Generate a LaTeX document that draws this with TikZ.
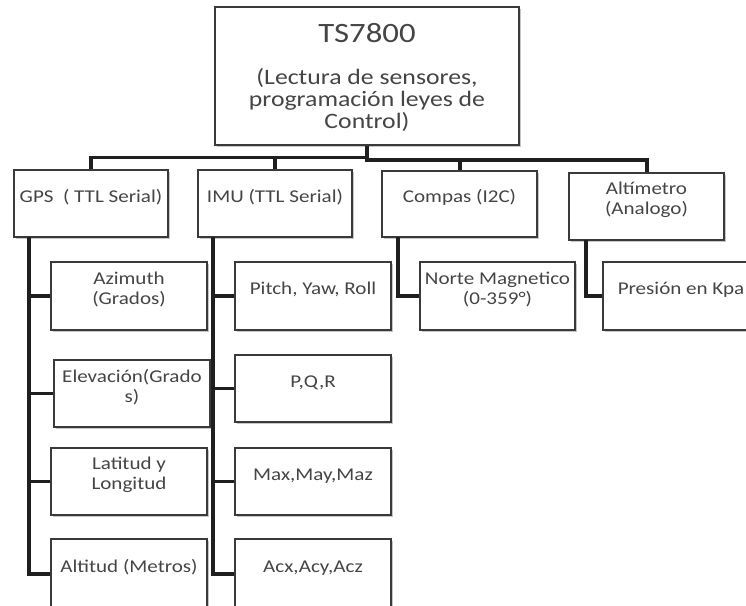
\documentclass[tikz,border=0pt]{standalone}
\usepackage{fontspec}
\setmainfont{Carlito}[FakeStretch=1.17]
\usetikzlibrary{fit,shadows}
\definecolor{txt}{HTML}{454545}
\definecolor{bord}{HTML}{3A3A3A}
\begin{document}
\begin{tikzpicture}[x=0.75pt,y=-0.75pt,
  box/.style={draw=bord, line width=1.1pt, fill=white, inner sep=0pt, align=center,
    text=txt, font=\fontsize{13.5}{15}\selectfont,
    drop shadow={shadow xshift=1.2pt, shadow yshift=-1.2pt, fill=black, opacity=0.22}},
  conn/.style={line width=2.6pt, draw=black!88, line cap=butt, line join=miter},
  lbl/.style={text=txt, align=center, inner sep=0pt}]
\useasboundingbox (0,0) rectangle (746,606);
\clip (0,0) rectangle (746,606);

% top box
\node[box, fit={(215,7) (519,145)}] (top) {};
\node[lbl, font=\fontsize{21}{24}\selectfont] (tsname) at (367,33) {TS7800};
\node[lbl, font=\fontsize{16.5}{16.2}\selectfont] (tsdesc) at (367,100)
  {(Lectura de sensores,\\programación leyes de\\Control)};

% level 2
\node[box, fit={(14,170) (168,237)}] (gps) {GPS \ ( TTL Serial)};
\node[box, fit={(198,170) (352,237)}] (imu) {IMU (TTL Serial)};
\node[box, fit={(382,171) (537,237)}] (comp) {Compas (I2C)};
\node[box, fit={(569,173) (724,240)}] (alt) {Altímetro\\(Analogo)};

% level 3 GPS
\node[box, fit={(51,262) (207,330)}] (azi) {Azimuth\\(Grados)};
\node[box, fit={(54,360) (210,427)}] (ele) {Elevación(Grado\\s)};
\node[box, fit={(51,448) (207,515)}] (lat) {Latitud y\\Longitud};
\node[box, fit={(51,539) (207,609)}] (alti) {Altitud (Metros)};

% level 3 IMU
\node[box, fit={(235,262) (391,330)}] (pyr) {Pitch, Yaw, Roll};
\node[box, fit={(235,355) (391,422)}] (pqr) {P,Q,R};
\node[box, fit={(235,448) (391,515)}] (max) {Max,May,Maz};
\node[box, fit={(235,539) (391,609)}] (acx) {Acx,Acy,Acz};

% level 3 Compas / Altimetro
\node[box, fit={(420,262) (575,330)}] (nor) {Norte Magnetico\\(0-359°)};
\node[box, fit={(603,262) (759,330)}] (pre) {Presión en Kpa};

% trunk coordinates
\coordinate (gpsT) at (29,237);
\coordinate (imuT) at (213,237);
\coordinate (compT) at (398,237);
\coordinate (altT) at (586,240);

% bus connectors
\draw[conn] (top.south) -- ++(0,12) -| (gps.north);
\draw[conn] (top.south) -- ++(0,12) -| (imu.north);
\draw[conn, line width=3pt] (top.south) -- ++(0,14) -| (comp.north);
\draw[conn, line width=3pt] (top.south) -- ++(0,14) -| (alt.north);

% child connectors
\draw[conn] (gpsT) |- (azi.west);
\draw[conn] (gpsT) |- (ele.west);
\draw[conn] (gpsT) |- (lat.west);
\draw[conn] (gpsT) |- (alti.west);
\draw[conn] (imuT) |- (pyr.west);
\draw[conn] (imuT) |- (pqr.west);
\draw[conn] (imuT) |- (max.west);
\draw[conn] (imuT) |- (acx.west);
\draw[conn] (compT) |- (nor.west);
\draw[conn] (altT) |- (pre.west);
\end{tikzpicture}
\end{document}
